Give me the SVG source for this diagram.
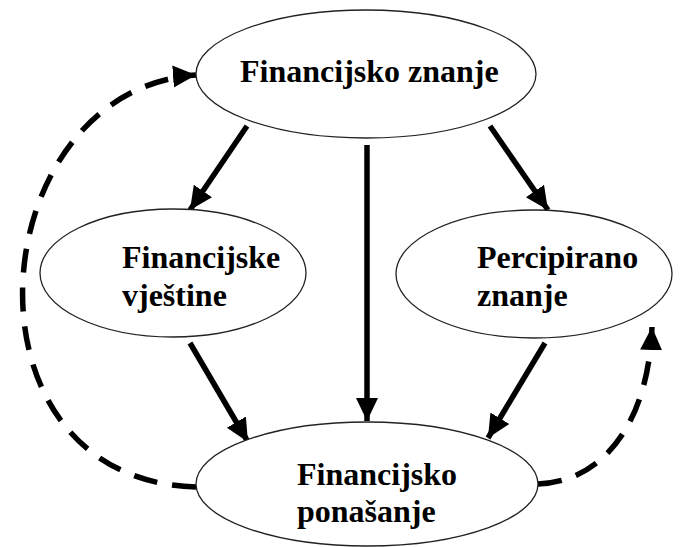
<svg xmlns="http://www.w3.org/2000/svg" width="686" height="547" viewBox="0 0 686 547">
<style>
.node ellipse{fill:#fff;stroke:#222;stroke-width:1.3}
.node text{font-family:"Liberation Serif","Times New Roman",serif;font-weight:bold;font-size:32px;fill:#000}
.solid{stroke:#000;stroke-width:5.5;fill:none}
.dash{stroke:#000;stroke-width:5.5;fill:none;stroke-dasharray:24 15}
</style>
<defs>
<marker id="ah" markerUnits="userSpaceOnUse" markerWidth="26" markerHeight="26" viewBox="0 0 26 26" refX="23" refY="13" orient="auto">
<path d="M0,2 L23,13 L0,24 Z" fill="#000"/>
</marker>
</defs>
<rect width="686" height="547" fill="#fff"/>
<g id="connectors">
<line class="solid" x1="247" y1="126" x2="190" y2="210" marker-end="url(#ah)"/>
<line class="solid" x1="490" y1="126" x2="548" y2="210" marker-end="url(#ah)"/>
<line class="solid" x1="367" y1="145" x2="367" y2="421" marker-end="url(#ah)"/>
<line class="solid" x1="190" y1="343" x2="248" y2="442" marker-end="url(#ah)"/>
<line class="solid" x1="545" y1="343" x2="488" y2="438" marker-end="url(#ah)"/>
<path class="dash" d="M196,487 C-50,480 -20,90 196,75" marker-end="url(#ah)"/>
<path class="dash" d="M538,484 C598,482 648,430 652,327" marker-end="url(#ah)"/>
</g>
<g id="n-znanje" class="node">
<ellipse cx="366" cy="74" rx="170" ry="64"/>
<text x="240" y="82">Financijsko znanje</text>
</g>
<g id="n-vjestine" class="node">
<ellipse cx="173" cy="273" rx="133" ry="64"/>
<text x="122" y="268">Financijske</text>
<text x="122" y="306">vještine</text>
</g>
<g id="n-percipirano" class="node">
<ellipse cx="534" cy="274" rx="138" ry="64"/>
<text x="477" y="268">Percipirano</text>
<text x="477" y="306">znanje</text>
</g>
<g id="n-ponasanje" class="node">
<ellipse cx="367" cy="484" rx="171" ry="62"/>
<text x="297" y="485">Financijsko</text>
<text x="297" y="522">ponašanje</text>
</g>
</svg>
